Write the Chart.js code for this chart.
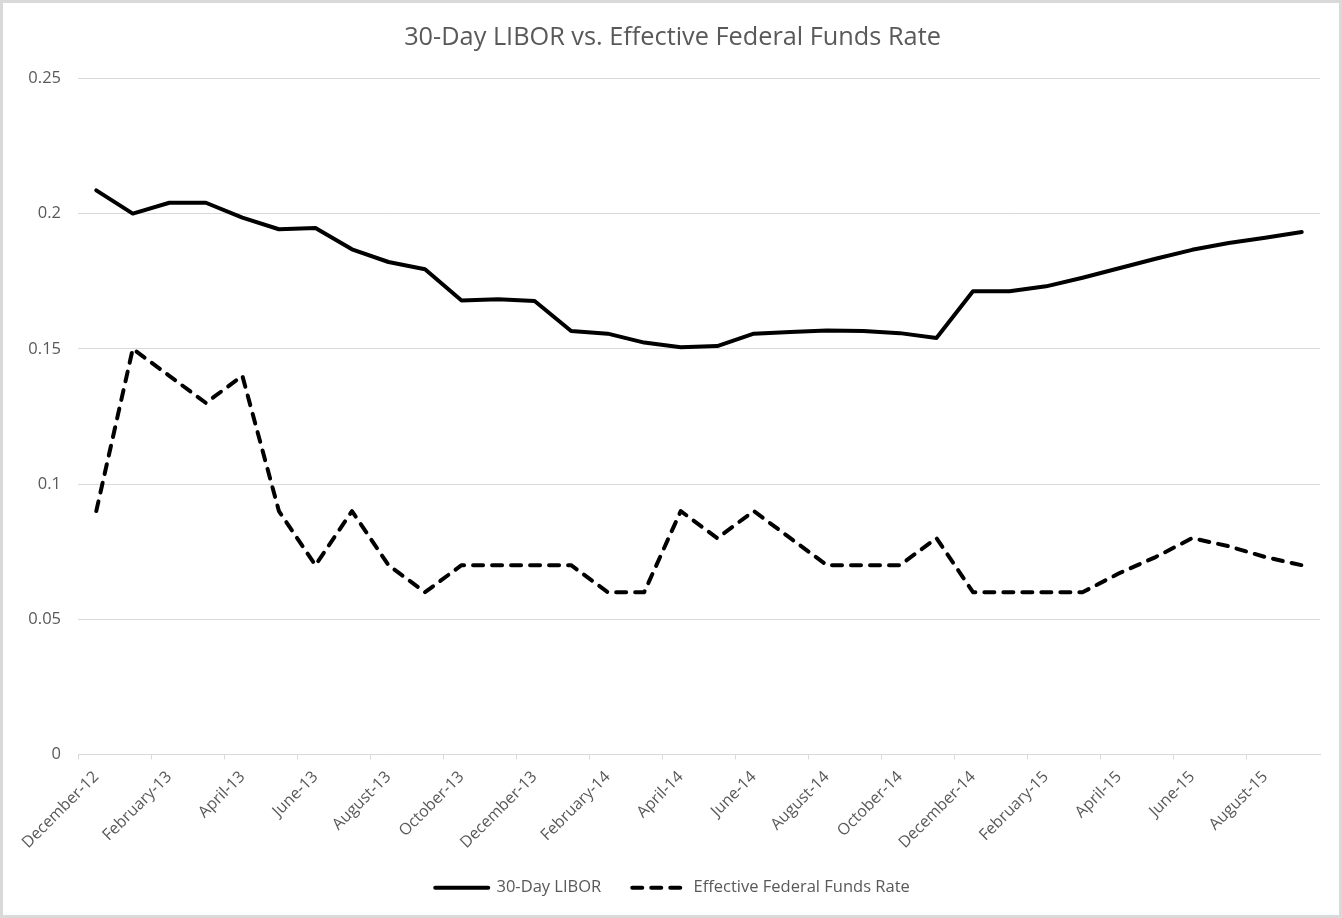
<!DOCTYPE html>
<html>
<head>
<meta charset="utf-8">
<script src="https://cdn.jsdelivr.net/npm/chart.js@4.4.1/dist/chart.umd.min.js"></script>
<style>
  html, body { margin: 0; padding: 0; background: #fff; }
  #wrap { position: relative; width: 1342px; height: 918px; }
</style>
</head>
<body>
<div id="wrap"><canvas id="rateChart"></canvas></div>
<script>
// months on the category axis
var months = ['December-12','January-13','February-13','March-13','April-13','May-13','June-13','July-13',
  'August-13','September-13','October-13','November-13','December-13','January-14','February-14','March-14',
  'April-14','May-14','June-14','July-14','August-14','September-14','October-14','November-14',
  'December-14','January-15','February-15','March-15','April-15','May-15','June-15','July-15',
  'August-15','September-15'];

// 30-Day LIBOR
var libor = [0.2086, 0.2000, 0.2040, 0.2040, 0.1985, 0.1942, 0.1947, 0.1868, 0.1821, 0.1794, 0.1679, 0.1683,
  0.1677, 0.1566, 0.1556, 0.1523, 0.1506, 0.1510, 0.1556, 0.1562, 0.1568, 0.1566, 0.1558, 0.1540,
  0.1713, 0.1713, 0.1731, 0.1763, 0.1798, 0.1833, 0.1866, 0.1891, 0.1911, 0.1932];

// Effective Federal Funds Rate
var effr = [0.09, 0.15, 0.14, 0.13, 0.14, 0.09, 0.07, 0.09, 0.07, 0.06, 0.07, 0.07,
  0.07, 0.07, 0.06, 0.06, 0.09, 0.08, 0.09, 0.08, 0.07, 0.07, 0.07, 0.08,
  0.06, 0.06, 0.06, 0.06, 0.067, 0.073, 0.08, 0.077, 0.073, 0.07];

var yTicks = [0, 0.05, 0.1, 0.15, 0.2, 0.25];

const grey = '#595959';
const gridGrey = '#d9d9d9';

Chart.defaults.font.family = "'Open Sans', sans-serif";
Chart.defaults.color = grey;

// white page + thin frame like the spreadsheet export
var frame = {
  id: 'frame',
  beforeDraw: (chart) => {
    const ctx = chart.ctx;
    ctx.save();
    ctx.fillStyle = '#fff';
    ctx.fillRect(0, 0, chart.width, chart.height);
    ctx.restore();
  },
  afterDraw: (chart) => {
    const ctx = chart.ctx;
    ctx.save();
    ctx.strokeStyle = gridGrey;
    ctx.lineWidth = 3;
    ctx.strokeRect(1.5, 1.5, chart.width - 3, chart.height - 3);
    ctx.restore();
  }
};

// legend with the dataset's own dash pattern
var legendLabels = (chart) => {
  const items = Chart.defaults.plugins.legend.labels.generateLabels(chart);
  items.forEach((item) => {
    const ds = chart.data.datasets[item.datasetIndex];
    item.lineDash = ds.borderDash || [];
    item.lineCap = 'round';
    item.lineWidth = ds.borderWidth;
  });
  return items;
};

const chartEl = document.getElementById('rateChart');
new Chart(chartEl, {
  type: 'line',
  data: {
    labels: months,
    datasets: [{
      label: '30-Day LIBOR',
      data: libor,
      borderColor: '#000',
      backgroundColor: '#000',
      borderWidth: 4,
      borderJoinStyle: 'round',
      borderCapStyle: 'round',
      pointRadius: 0,
      pointStyle: 'line',
      tension: 0
    }, {
      label: 'Effective Federal Funds Rate',
      data: effr,
      borderColor: '#000',
      backgroundColor: '#000',
      borderWidth: 4,
      borderDash: [10, 9],
      borderJoinStyle: 'round',
      borderCapStyle: 'round',
      pointRadius: 0,
      pointStyle: 'line',
      tension: 0
    }]
  },
  options: {
    responsive: true,
    maintainAspectRatio: false,
    animation: false,
    layout: { padding: { left: 25, right: 22, top: 0, bottom: 12 } },
    plugins: {
      title: {
        display: true,
        text: '30-Day LIBOR vs. Effective Federal Funds Rate',
        color: grey,
        font: { size: 25.3, weight: 'normal' },
        padding: { top: 23, bottom: 25 }
      },
      legend: {
        position: 'bottom',
        labels: {
          usePointStyle: true,
          pointStyle: 'line',
          pointStyleWidth: 53,
          boxHeight: 16,
          padding: 31,
          color: grey,
          font: { size: 16.5 },
          generateLabels: legendLabels
        }
      },
      tooltip: { enabled: false }
    },
    scales: {
      x: {
        offset: true,
        afterFit: (scale) => { scale.height = 94; },
        grid: {
          offset: true,
          drawOnChartArea: false,
          drawTicks: true,
          tickLength: 5,
          color: (c) => (c.index % 2 === 0 ? gridGrey : 'rgba(0,0,0,0)')
        },
        border: { color: gridGrey },
        ticks: {
          autoSkip: false,
          maxRotation: 45,
          minRotation: 45,
          padding: 8,
          font: { size: 16 },
          callback: (v, i) => (i % 2 === 0 ? months[i] : '')
        }
      },
      y: {
        min: 0,
        max: 0.25,
        afterFit: (scale) => { scale.width = 53; },
        afterBuildTicks: (scale) => { scale.ticks = yTicks.map(v => ({ value: v })); },
        grid: { color: gridGrey, drawTicks: false },
        border: { display: false },
        ticks: {
          padding: 17,
          font: { size: 16.5 },
          callback: (v) => String(+Number(v).toFixed(2))
        }
      }
    }
  },
  plugins: [frame]
});
</script>
</body>
</html>
